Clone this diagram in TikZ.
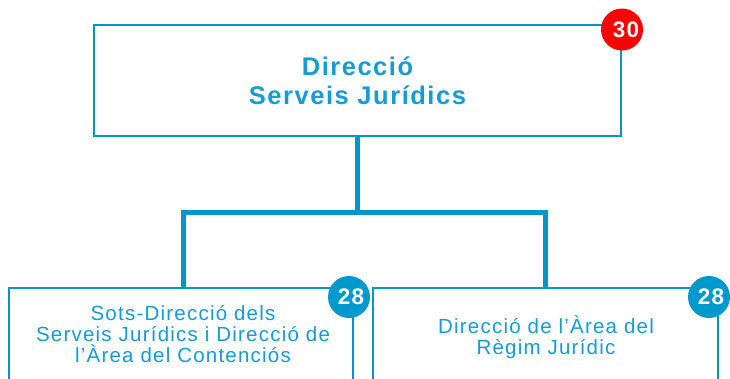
\documentclass[tikz,border=0pt]{standalone}
\usepackage{fontspec}
\setmainfont{Liberation Sans}
\newfontfamily\topfont[LetterSpace=6]{Liberation Sans Bold}
\newfontfamily\subfont[LetterSpace=6]{Liberation Sans}
\newfontfamily\badgefont[LetterSpace=6]{Liberation Sans Bold}
\definecolor{lineblue}{RGB}{0,150,204}
\definecolor{textblue}{RGB}{22,155,212}
\definecolor{badgeblue}{RGB}{0,153,204}
\definecolor{badgered}{RGB}{255,0,0}
\tikzset{
  box/.style={draw=lineblue, line width=2pt, fill=white, rectangle, inner sep=0pt},
  conn/.style={draw=lineblue, line width=5pt, line join=miter},
  badge/.style={circle, inner sep=0pt, minimum size=42pt},
  badgetext/.style={text=white, inner sep=0pt,
    font=\badgefont\fontsize{22.5}{22.5}\selectfont},
  toptext/.style={text=textblue, align=center, inner sep=0pt,
    font=\topfont\fontsize{25.5}{28.6}\selectfont},
  subtext/.style={text=textblue, align=center, inner sep=0pt,
    font=\subfont\fontsize{20.5}{21}\selectfont},
}
\begin{document}
\begin{tikzpicture}[x=1pt,y=-1pt]
\useasboundingbox (0,0) rectangle (730,378);
% boxes
\node[box, minimum width=527pt, minimum height=111pt] (top) at (357.5,80.5) {};
\node[box, minimum width=344pt, minimum height=140pt] (lbox) at (181,358) {};
\node[box, minimum width=345pt, minimum height=140pt] (rbox) at (545.5,358) {};
% connectors
\coordinate (jl) at (183,212);
\coordinate (jr) at (545,212);
\draw[conn] (top.south) -- (top.south |- jl);
\draw[conn] (lbox.north -| jl) -- (jl) -- (jr) -- (rbox.north -| jr);
% texts
\node[toptext] (ttop) at (357.5,81) {Direcció\\Serveis Jurídics};
\node[subtext] (tl) at (183,334) {Sots-Direcció dels\\Serveis Jurídics i Direcció de\\l’Àrea del Contenciós};
\node[subtext] (tr) at (546,337) {Direcció de l’Àrea del\\Règim Jurídic};
% badges
\node[badge, fill=badgered] (b1) at (622,29.5) {};
\node[badgetext, xshift=4pt] at (b1) {30};
\node[badge, fill=badgeblue] (b2) at (349,297) {};
\node[badgetext, xshift=2pt] at (b2) {28};
\node[badge, fill=badgeblue] (b3) at (709,297) {};
\node[badgetext, xshift=2pt] at (b3) {28};
\end{tikzpicture}
\end{document}
